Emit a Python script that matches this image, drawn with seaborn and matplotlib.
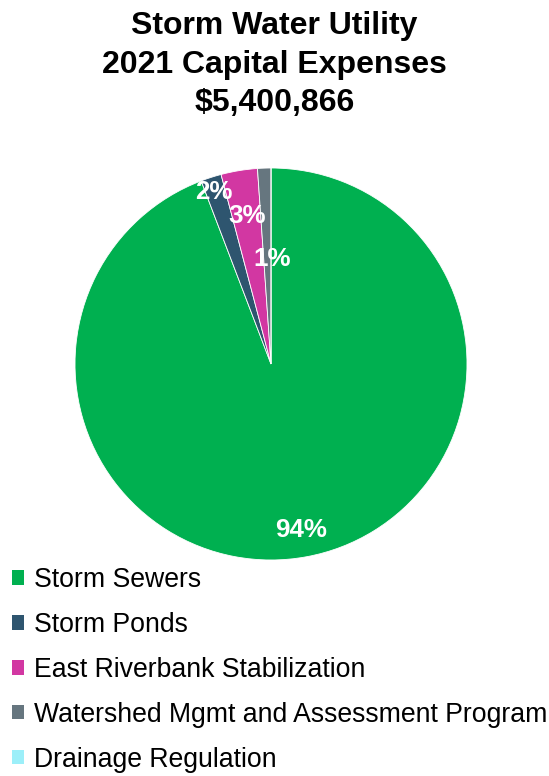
import matplotlib
matplotlib.use("Agg")
import matplotlib.pyplot as plt
import seaborn as sns
import numpy as np
from matplotlib.patches import Patch

categories = ["Storm Sewers", "Storm Ponds", "East Riverbank Stabilization",
              "Watershed Mgmt and Assessment Program", "Drainage Regulation"]
shares = [94.2, 1.7, 3.0, 1.1, 0.0]
colors = ["#00B050", "#2E556F", "#D237A2", "#66767F", "#9CEFF9"]
title_lines = ["Storm Water Utility", "2021 Capital Expenses", "$5,400,866"]

sns.set_theme(style="white")
plt.rcParams["font.family"] = ["Liberation Sans", "DejaVu Sans"]

W, H = 549, 776
fig = plt.figure(figsize=(W / 100, H / 100), dpi=100)
fig.patch.set_facecolor("white")

cx, cy, r = 271, 364, 196
ax = fig.add_axes([(cx - r) / W, (H - cy - r) / H, 2 * r / W, 2 * r / H])

wedges, _ = ax.pie(shares, colors=colors, startangle=90, counterclock=False,
                   radius=1.0, wedgeprops=dict(edgecolor="white", linewidth=0.6))
ax.set_xlim(-1, 1)
ax.set_ylim(-1, 1)
ax.set_aspect("equal")
ax.axis("off")

label_r = [0.86, 0.92, 0.765, 0.535, 0.7]
label_dx = [0, -0.01, 0, 0.025, 0]
for w, v, lr, dx in zip(wedges, shares, label_r, label_dx):
    if v < 0.5:
        continue
    ang = np.deg2rad((w.theta1 + w.theta2) / 2)
    ax.text(lr * np.cos(ang) + dx, lr * np.sin(ang), f"{round(v)}%", ha="center", va="center",
            color="white", fontsize=18.7, fontweight="bold")

fig.text(0.5, 1 - 64.5 / H, "\n".join(title_lines), ha="center", va="center",
         fontsize=23, fontweight="bold", color="black", linespacing=1.35)

handles = [Patch(facecolor=c, edgecolor="none") for c in colors]
leg = fig.legend(handles, categories, loc="upper left", bbox_to_anchor=(12 / W, 1 - 567 / H),
                 frameon=False, fontsize=19.2, handlelength=0.45, handleheight=0.45,
                 handletextpad=0.36, labelspacing=0.71, borderaxespad=0, borderpad=0)
for t in leg.get_texts():
    t.set_color("black")

fig.savefig("out.png", dpi=100, facecolor="white")
